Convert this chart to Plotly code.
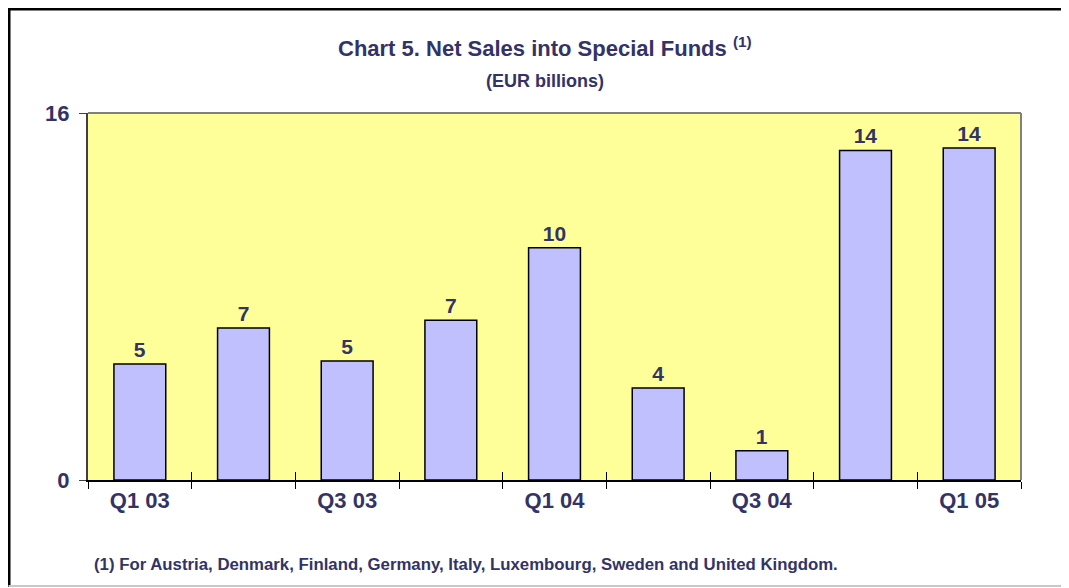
import plotly.graph_objects as go

quarters = ["Q1 03", "Q2 03", "Q3 03", "Q4 03", "Q1 04", "Q2 04", "Q3 04", "Q4 04", "Q1 05"]
net_sales = [5.06, 6.63, 5.19, 6.96, 10.13, 4.01, 1.28, 14.37, 14.47]
y_ticks = [0, 16]

navy = "#333366"
font_family = "Liberation Sans, Arial, sans-serif"

positions = list(range(len(quarters)))

fig = go.Figure(go.Bar(
    x=positions, y=net_sales,
    width=0.5,
    marker=dict(color="#C0C0FF", line=dict(color="black", width=1.5)),
    texttemplate="<b>%{y:.0f}</b>", textposition="outside",
    textfont=dict(size=21, color=navy, family=font_family),
    cliponaxis=False,
))
# invisible trace so the overlay axis (inner half of the category ticks) gets drawn
fig.add_trace(go.Scatter(x=positions, y=net_sales, xaxis="x2", mode="none",
                         hoverinfo="skip", showlegend=False))

# page coords -> paper coords (page body has an 8px offset; plot area 88..1021 x 113..480 on screen)
OFF = 8

def px(x):
    return (x - 88) / 933

def py(y):
    return (480 - y) / 367

x_range = [-0.5, len(quarters) - 0.5]

fig.update_layout(
    width=1069, height=588,
    margin=dict(l=88 - OFF, r=1069 - 1021 + OFF, t=113 - OFF, b=588 - 480 + OFF),
    paper_bgcolor="white", plot_bgcolor="#FFFF99",
    showlegend=False,
    font=dict(family=font_family, color=navy),
    xaxis=dict(
        range=x_range,
        tickvals=positions[::2], ticktext=["<b>%s</b>" % q for q in quarters[::2]],
        ticks="", showline=True, linecolor="black", linewidth=2,
        minor=dict(tick0=-0.5, dtick=1, ticks="outside", ticklen=7, tickcolor="black", showgrid=False),
        tickfont=dict(size=22, color=navy), showgrid=False, zeroline=False,
    ),
    xaxis2=dict(
        range=x_range, overlaying="x", anchor="y", side="bottom",
        tickmode="linear", tick0=-0.5, dtick=1, ticks="inside", ticklen=8, tickcolor="black",
        showticklabels=False, showgrid=False, zeroline=False, showline=False,
    ),
    yaxis=dict(
        range=[0, 16], tickvals=y_ticks, ticktext=["<b>%d</b>" % v for v in y_ticks],
        ticks="outside", ticklen=7, tickcolor="#404040", ticklabelstandoff=5,
        showline=True, linecolor="#404040", linewidth=2,
        tickfont=dict(size=22, color=navy), showgrid=False, zeroline=False,
    ),
    shapes=[
        dict(type="line", xref="paper", yref="paper", x0=0, x1=1, y0=1, y1=1,
             line=dict(color="#808080", width=2)),
        dict(type="line", xref="paper", yref="paper", x0=1, x1=1, y0=0, y1=1,
             line=dict(color="#808080", width=2)),
        dict(type="line", xref="paper", yref="paper", x0=px(8.5), x1=px(1080), y0=py(8.5), y1=py(8.5),
             line=dict(color="black", width=4)),
        dict(type="line", xref="paper", yref="paper", x0=px(9), x1=px(9), y0=py(8), y1=py(587),
             line=dict(color="black", width=3)),
        dict(type="line", xref="paper", yref="paper", x0=px(8.5), x1=px(1080), y0=py(586), y1=py(586),
             line=dict(color="#C8C8C8", width=2)),
    ],
    annotations=[
        dict(text="<b>Chart 5. Net Sales into Special Funds <sup>(1)</sup></b>", x=px(545), y=py(47),
             xref="paper", yref="paper", xanchor="center", yanchor="middle", showarrow=False,
             font=dict(size=22, color=navy)),
        dict(text="<b>(EUR billions)</b>", x=px(545), y=py(81), xref="paper", yref="paper",
             xanchor="center", yanchor="middle", showarrow=False, font=dict(size=18, color=navy)),
        dict(text="<b>(1) For Austria, Denmark, Finland, Germany, Italy, Luxembourg, Sweden and United Kingdom.</b>",
             x=px(92), y=py(564), xref="paper", yref="paper", xanchor="left", yanchor="middle",
             showarrow=False, font=dict(size=16.8, color=navy)),
    ],
)

fig.write_html("out.html")
